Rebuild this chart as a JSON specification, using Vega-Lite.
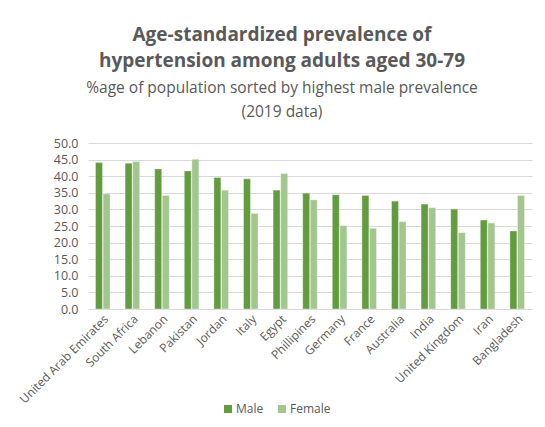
{
  "$schema": "https://vega.github.io/schema/vega-lite/v6.json",
  "width": 444,
  "height": 166,
  "autosize": {"type": "none"},
  "padding": {"left": 88, "top": 143, "right": 13, "bottom": 118},
  "background": "white",
  "config": {
    "font": "Open Sans",
    "view": {"stroke": null},
    "axis": {"labelColor": "#595959", "titleColor": "#595959"}
  },
  "title": {
    "text": ["Age-standardized prevalence of", "hypertension among adults aged 30-79"],
    "subtitle": ["%age of population sorted by highest male prevalence", "(2019 data)"],
    "anchor": "middle",
    "frame": "group",
    "font": "Open Sans",
    "fontSize": 19,
    "fontWeight": "bold",
    "color": "#595959",
    "lineHeight": 26,
    "subtitleFont": "Open Sans",
    "subtitleFontSize": 15.5,
    "subtitleColor": "#595959",
    "subtitleLineHeight": 24,
    "subtitlePadding": 10,
    "offset": 17,
    "dx": -28
  },
  "data": {
    "values": [
      {"country": "United Arab Emirates", "sex": "Male", "value": 44.1},
      {"country": "United Arab Emirates", "sex": "Female", "value": 34.7},
      {"country": "South Africa", "sex": "Male", "value": 43.9},
      {"country": "South Africa", "sex": "Female", "value": 44.4},
      {"country": "Lebanon", "sex": "Male", "value": 42.2},
      {"country": "Lebanon", "sex": "Female", "value": 34.2},
      {"country": "Pakistan", "sex": "Male", "value": 41.6},
      {"country": "Pakistan", "sex": "Female", "value": 45.1},
      {"country": "Jordan", "sex": "Male", "value": 39.6},
      {"country": "Jordan", "sex": "Female", "value": 35.8},
      {"country": "Italy", "sex": "Male", "value": 39.2},
      {"country": "Italy", "sex": "Female", "value": 28.8},
      {"country": "Egypt", "sex": "Male", "value": 35.8},
      {"country": "Egypt", "sex": "Female", "value": 40.8},
      {"country": "Phillipines", "sex": "Male", "value": 34.9},
      {"country": "Phillipines", "sex": "Female", "value": 32.9},
      {"country": "Germany", "sex": "Male", "value": 34.4},
      {"country": "Germany", "sex": "Female", "value": 25.1},
      {"country": "France", "sex": "Male", "value": 34.2},
      {"country": "France", "sex": "Female", "value": 24.3},
      {"country": "Australia", "sex": "Male", "value": 32.5},
      {"country": "Australia", "sex": "Female", "value": 26.3},
      {"country": "India", "sex": "Male", "value": 31.6},
      {"country": "India", "sex": "Female", "value": 30.5},
      {"country": "United Kingdom", "sex": "Male", "value": 30.1},
      {"country": "United Kingdom", "sex": "Female", "value": 23.0},
      {"country": "Iran", "sex": "Male", "value": 26.8},
      {"country": "Iran", "sex": "Female", "value": 25.9},
      {"country": "Bangladesh", "sex": "Male", "value": 23.5},
      {"country": "Bangladesh", "sex": "Female", "value": 34.2}
    ]
  },
  "mark": {"type": "bar", "width": 7, "stroke": "#ffffff", "strokeWidth": 0.6, "strokeOpacity": 0.6},
  "encoding": {
    "x": {
      "field": "country",
      "type": "nominal",
      "sort": null,
      "title": null,
      "scale": {"paddingInner": 0, "paddingOuter": 0},
      "axis": {
        "labelAngle": -45,
        "labelFontSize": 12,
        "labelColor": "#595959",
        "ticks": false,
        "domainColor": "#d9d9d9",
        "domainWidth": 1,
        "labelPadding": 4,
        "labelLimit": 200
      }
    },
    "xOffset": {
      "field": "sex",
      "type": "nominal",
      "sort": ["Male", "Female"],
      "scale": {"paddingInner": 0.1, "paddingOuter": 1.45}
    },
    "y": {
      "field": "value",
      "type": "quantitative",
      "title": null,
      "scale": {"domain": [0, 50]},
      "axis": {
        "values": [0, 5, 10, 15, 20, 25, 30, 35, 40, 45, 50],
        "format": ".1f",
        "labelFontSize": 12.5,
        "labelColor": "#595959",
        "domain": false,
        "ticks": false,
        "labelPadding": 10,
        "gridColor": "#d9d9d9",
        "gridWidth": 1
      }
    },
    "color": {
      "field": "sex",
      "type": "nominal",
      "sort": ["Male", "Female"],
      "scale": {"domain": ["Male", "Female"], "range": ["#629c3e", "#a2c68e"]},
      "legend": {
        "title": null,
        "orient": "none",
        "direction": "horizontal",
        "legendX": 134,
        "legendY": 260,
        "symbolType": "square",
        "symbolSize": 64,
        "symbolStrokeWidth": 0,
        "labelFontSize": 12,
        "labelColor": "#595959",
        "columnPadding": 12,
        "labelOffset": 2
      }
    }
  }
}
